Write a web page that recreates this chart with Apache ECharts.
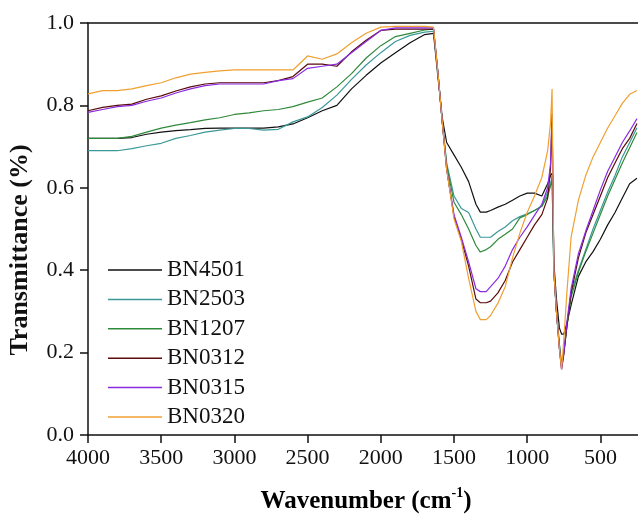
<!DOCTYPE html>
<html>
<head>
<meta charset="utf-8">
<script src="https://cdn.jsdelivr.net/npm/echarts@6/dist/echarts.min.js"></script>
<style>
html,body{margin:0;padding:0;background:#fff;}
#chart{width:638px;height:514px;}
</style>
</head>
<body>
<div id="chart"></div>
<script>
const wavenumbers = [4000,3900,3800,3700,3600,3500,3400,3300,3200,3100,3000,2900,2800,2700,2600,2500,2400,2300,2200,2100,2000,1900,1800,1700,1640,1610,1580,1550,1500,1450,1400,1350,1320,1280,1250,1200,1150,1100,1050,1000,950,900,860,840,830,825,818,800,780,765,750,730,700,650,600,550,500,450,400,350,300,250];

const BN4501 = [0.72,0.72,0.72,0.722,0.73,0.735,0.739,0.741,0.744,0.745,0.745,0.745,0.745,0.748,0.755,0.77,0.787,0.80,0.84,0.873,0.903,0.928,0.952,0.972,0.975,0.87,0.77,0.71,0.68,0.65,0.615,0.56,0.541,0.541,0.545,0.553,0.56,0.57,0.58,0.587,0.587,0.58,0.61,0.63,0.635,0.63,0.42,0.33,0.26,0.245,0.245,0.27,0.315,0.385,0.42,0.445,0.475,0.51,0.54,0.575,0.61,0.623];
const BN2503 = [0.69,0.69,0.69,0.695,0.702,0.708,0.72,0.727,0.735,0.74,0.744,0.744,0.74,0.742,0.76,0.772,0.795,0.825,0.863,0.898,0.928,0.955,0.97,0.978,0.98,0.88,0.76,0.66,0.58,0.55,0.54,0.50,0.48,0.48,0.48,0.494,0.505,0.52,0.53,0.537,0.545,0.555,0.59,0.61,0.63,0.63,0.40,0.30,0.22,0.17,0.20,0.26,0.345,0.40,0.45,0.50,0.545,0.59,0.63,0.675,0.71,0.746];
const BN1207 = [0.72,0.72,0.72,0.725,0.735,0.745,0.752,0.758,0.765,0.77,0.778,0.782,0.787,0.79,0.797,0.808,0.818,0.845,0.877,0.915,0.945,0.967,0.975,0.983,0.985,0.88,0.76,0.655,0.565,0.535,0.50,0.46,0.444,0.45,0.457,0.475,0.487,0.50,0.527,0.535,0.545,0.555,0.58,0.605,0.62,0.62,0.40,0.30,0.22,0.17,0.20,0.26,0.335,0.395,0.445,0.49,0.535,0.58,0.62,0.66,0.697,0.734];
const BN0312 = [0.787,0.795,0.80,0.803,0.815,0.823,0.835,0.845,0.852,0.855,0.855,0.855,0.855,0.86,0.87,0.90,0.90,0.895,0.93,0.958,0.982,0.985,0.985,0.985,0.985,0.88,0.76,0.645,0.53,0.475,0.41,0.33,0.321,0.321,0.325,0.345,0.375,0.42,0.45,0.48,0.51,0.535,0.575,0.65,0.78,0.78,0.40,0.30,0.21,0.16,0.195,0.26,0.345,0.43,0.49,0.535,0.58,0.625,0.66,0.695,0.72,0.756];
const BN0315 = [0.783,0.79,0.797,0.80,0.81,0.818,0.83,0.84,0.848,0.852,0.852,0.852,0.852,0.86,0.865,0.89,0.895,0.90,0.928,0.955,0.982,0.988,0.988,0.988,0.988,0.88,0.76,0.645,0.535,0.48,0.42,0.355,0.348,0.348,0.36,0.38,0.41,0.45,0.48,0.505,0.533,0.56,0.60,0.66,0.78,0.78,0.40,0.30,0.21,0.16,0.20,0.27,0.355,0.44,0.495,0.545,0.595,0.64,0.675,0.71,0.738,0.768];
const BN0320 = [0.828,0.836,0.836,0.84,0.848,0.855,0.867,0.876,0.88,0.884,0.886,0.886,0.886,0.886,0.886,0.92,0.912,0.925,0.952,0.975,0.99,0.992,0.992,0.992,0.99,0.88,0.76,0.645,0.525,0.47,0.38,0.30,0.28,0.28,0.29,0.32,0.36,0.43,0.49,0.54,0.58,0.625,0.69,0.76,0.84,0.84,0.40,0.30,0.21,0.16,0.23,0.34,0.48,0.57,0.63,0.675,0.71,0.745,0.775,0.805,0.827,0.836];

const seriesNames = ['BN4501','BN2503','BN1207','BN0312','BN0315','BN0320'];
const seriesValues = [BN4501, BN2503, BN1207, BN0312, BN0315, BN0320];
const seriesColors = ['#111111','#3a9898','#2e8a3a','#5a0a0a','#8a2be2','#f0a030'];
const xTicks = [4000,3500,3000,2500,2000,1500,1000,500];
const yTicks = [0,0.2,0.4,0.6,0.8,1.0];

const FONT = 'Liberation Serif';
const chart = echarts.init(document.getElementById('chart'));

const series = seriesNames.map((name, i) => ({
  name: name,
  type: 'line',
  symbol: 'none',
  xAxisIndex: 0,
  yAxisIndex: 0,
  lineStyle: {color: seriesColors[i], width: 1.2},
  itemStyle: {color: seriesColors[i]},
  data: wavenumbers.map((w, j) => [w, seriesValues[i][j]]),
  z: 2 + i
}));

chart.setOption({
  animation: false,
  backgroundColor: '#fff',
  grid: {left: 88, top: 23, right: 0, bottom: 79},
  legend: {
    data: seriesNames,
    orient: 'vertical',
    left: 103,
    top: 253,
    icon: 'rect',
    itemWidth: 54,
    itemHeight: 1.5,
    itemGap: 5.4,
    textStyle: {fontFamily: FONT, fontSize: 23, color: '#111', lineHeight: 24}
  },
  xAxis: [{
    type: 'value',
    inverse: true,
    min: 243,
    max: 4000,
    position: 'bottom',
    splitLine: {show: false},
    axisLine: {lineStyle: {color: '#111', width: 1.5}},
    axisTick: {show: true, length: 8, inside: false, customValues: xTicks, lineStyle: {color: '#111', width: 1.5}},
    axisLabel: {customValues: xTicks, margin: 12, fontFamily: FONT, fontSize: 22, color: '#111', formatter: v => String(Math.round(v))}
  }, {
    type: 'value',
    inverse: true,
    min: 243,
    max: 4000,
    position: 'top',
    splitLine: {show: false},
    axisLine: {show: true, lineStyle: {color: '#111', width: 1.5}},
    axisTick: {show: false},
    axisLabel: {show: false}
  }],
  yAxis: {
    type: 'value',
    min: 0,
    max: 1,
    interval: 0.2,
    splitLine: {show: false},
    axisLine: {show: true, lineStyle: {color: '#111', width: 1.5}},
    axisTick: {show: true, length: 8, inside: false, lineStyle: {color: '#111', width: 1.5}},
    axisLabel: {margin: 14, fontFamily: FONT, fontSize: 22, color: '#111', formatter: v => v.toFixed(1)}
  },
  graphic: [{
    type: 'text',
    x: 20,
    y: 250,
    rotation: Math.PI / 2,
    style: {
      text: 'Transmittance (%)',
      font: 'bold 26px "Liberation Serif"',
      fill: '#111',
      align: 'center',
      verticalAlign: 'middle'
    }
  }, {
    type: 'text',
    x: 366,
    y: 500,
    style: {
      text: '{a|Wavenumber (cm}{s|-1}{a|)}',
      align: 'center',
      verticalAlign: 'middle',
      rich: {
        a: {fontFamily: FONT, fontWeight: 'bold', fontSize: 25, color: '#111', lineHeight: 28, verticalAlign: 'bottom'},
        s: {fontFamily: FONT, fontWeight: 'bold', fontSize: 14, color: '#111', lineHeight: 28, verticalAlign: 'top'}
      }
    }
  }],
  series: series
});
</script>
</body>
</html>
